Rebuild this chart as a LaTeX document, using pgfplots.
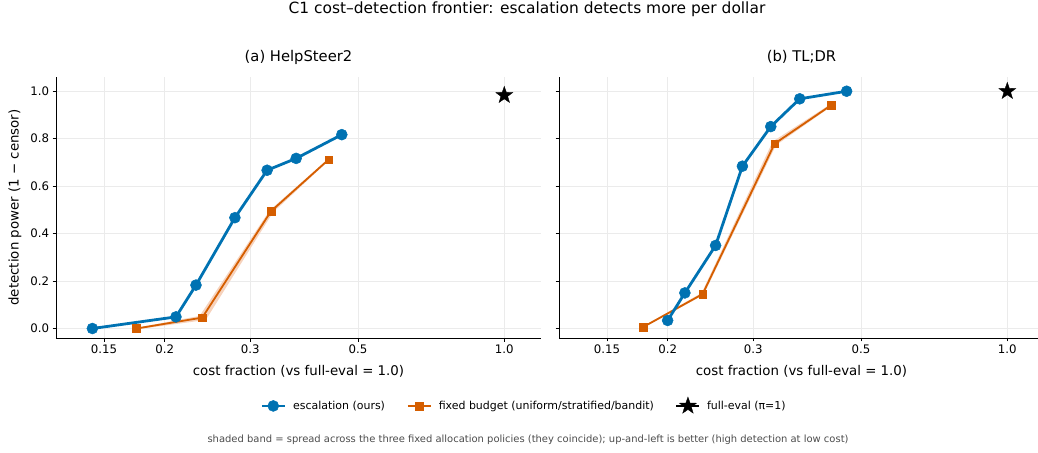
\documentclass[border=0pt]{standalone}
\usepackage{fontspec}
\setmainfont{DejaVu Sans}
\usepackage{pgfplots}
\pgfplotsset{compat=1.18}
\definecolor{cblue}{HTML}{0072B2}
\definecolor{corange}{HTML}{D55E00}
\definecolor{gridc}{HTML}{EBEBEB}
\definecolor{bandc}{HTML}{F6D2BC}
\pgfdeclareplotmark{fstar}{%
  \pgfpathmoveto{\pgfpointpolar{90}{\pgfplotmarksize}}%
  \pgfpathlineto{\pgfpointpolar{126}{0.4\pgfplotmarksize}}%
  \pgfpathlineto{\pgfpointpolar{162}{\pgfplotmarksize}}%
  \pgfpathlineto{\pgfpointpolar{198}{0.4\pgfplotmarksize}}%
  \pgfpathlineto{\pgfpointpolar{234}{\pgfplotmarksize}}%
  \pgfpathlineto{\pgfpointpolar{270}{0.4\pgfplotmarksize}}%
  \pgfpathlineto{\pgfpointpolar{306}{\pgfplotmarksize}}%
  \pgfpathlineto{\pgfpointpolar{342}{0.4\pgfplotmarksize}}%
  \pgfpathlineto{\pgfpointpolar{18}{\pgfplotmarksize}}%
  \pgfpathlineto{\pgfpointpolar{54}{0.4\pgfplotmarksize}}%
  \pgfpathclose
  \pgfusepathqfillstroke
}
\tikzset{
  esc/.style={cblue, line width=2.8bp, mark=*, mark size=5.5bp, mark options={solid, fill=cblue, draw=cblue, line width=0.5bp}},
  fix/.style={corange, line width=1.8bp, mark=square*, mark size=3.9bp, mark options={solid, fill=corange, draw=corange, line width=0.3bp}},
  fe/.style={black, line width=1.2bp, mark=fstar, mark size=9bp, mark options={solid, fill=black, draw=black, line width=0.3bp}},
}
\begin{document}
\begin{tikzpicture}
\useasboundingbox (0,0) rectangle (1038bp,453bp);
\node[font=\fontsize{15.5}{18}\selectfont] at (527bp,444bp) {C1 cost–detection frontier: escalation detects more per dollar};
\node[font=\fontsize{10}{12}\selectfont, text=black!70] at (528bp,13bp) {shaded band = spread across the three fixed allocation policies (they coincide); up-and-left is better (high detection at low cost)};

\begin{axis}[at={(56bp,115bp)}, anchor=south west,
    scale only axis, width=485bp, height=261bp,
    xmode=log, xmin=0.1195, xmax=1.19, ymin=-0.04, ymax=1.06,
    axis x line*=bottom, axis y line*=left,
    axis line style={-, line width=0.8bp},
    xtick={0.15,0.2,0.3,0.5,1.0}, xticklabels={0.15,0.2,0.3,0.5,1.0},
    minor xtick={}, ytick={0,0.2,0.4,0.6,0.8,1.0},
    tick align=outside, major tick length=3.5bp,
    tick style={black, line width=0.8bp},
    grid=major, major grid style={gridc, line width=0.6bp},
    ticklabel style={font=\fontsize{11.8}{14}\selectfont},
    /pgf/number format/assume math mode=true,
    yticklabel style={/pgf/number format/.cd, fixed, fixed zerofill, precision=1},
    xlabel={cost fraction (vs full-eval = 1.0)},
    label style={font=\fontsize{13.4}{16}\selectfont},
    xlabel style={at={(0.5,0)}, anchor=center, yshift=-33bp},
    title style={font=\fontsize{14.8}{17}\selectfont, at={(0.5,1)}, anchor=center, yshift=14bp},
    clip=false,
  title={(a) HelpSteer2},
  ylabel={detection power (1 − censor)},
  ylabel style={at={(axis description cs:-0.0845,0.5)}, anchor=center},
  legend columns=3,
  legend style={at={(0.965,-0.257)}, anchor=center, draw=none, fill=none,
    font=\fontsize{11}{13}\selectfont,
    /tikz/every even column/.append style={column sep=20bp},
    /tikz/every odd column/.append style={column sep=5bp}},
  legend image code/.code={\draw[mark repeat=2,mark phase=2] plot coordinates {(0bp,0bp) (11.5bp,0bp) (23bp,0bp)};},
]
\addplot[fill=bandc, draw=none, forget plot] coordinates {(0.175,0.003) (0.236,0.053) (0.329,0.498) (0.434,0.715) (0.436,0.709) (0.334,0.489) (0.243,0.036) (0.176,-0.003)} -- cycle;
\addplot[fix, forget plot] coordinates {(0.175,0.0) (0.239,0.046) (0.331,0.494) (0.435,0.712)};
\addplot[esc, forget plot] coordinates {(0.142,0.0) (0.211,0.049) (0.232,0.183) (0.279,0.467) (0.325,0.667) (0.373,0.717) (0.463,0.817)};
\addplot[fe, forget plot] coordinates {(1.0,0.983)};
\addlegendimage{esc}
\addlegendentry{escalation (ours)}
\addlegendimage{fix}
\addlegendentry{fixed budget (uniform/stratified/bandit)}
\addlegendimage{fe}
\addlegendentry{full-eval (π=1)}
\end{axis}

\begin{axis}[at={(559bp,115bp)}, anchor=south west,
    scale only axis, width=485bp, height=261bp,
    xmode=log, xmin=0.1195, xmax=1.19, ymin=-0.04, ymax=1.06,
    axis x line*=bottom, axis y line*=left,
    axis line style={-, line width=0.8bp},
    xtick={0.15,0.2,0.3,0.5,1.0}, xticklabels={0.15,0.2,0.3,0.5,1.0},
    minor xtick={}, ytick={0,0.2,0.4,0.6,0.8,1.0},
    tick align=outside, major tick length=3.5bp,
    tick style={black, line width=0.8bp},
    grid=major, major grid style={gridc, line width=0.6bp},
    ticklabel style={font=\fontsize{11.8}{14}\selectfont},
    /pgf/number format/assume math mode=true,
    yticklabels={},
    xlabel={cost fraction (vs full-eval = 1.0)},
    label style={font=\fontsize{13.4}{16}\selectfont},
    xlabel style={at={(0.5,0)}, anchor=center, yshift=-33bp},
    title style={font=\fontsize{14.8}{17}\selectfont, at={(0.5,1)}, anchor=center, yshift=14bp},
    clip=false,
  title={(b) TL;DR},
]
\addplot[fill=bandc, draw=none] coordinates {(0.178,0.009) (0.235,0.150) (0.329,0.788) (0.433,0.946) (0.435,0.937) (0.334,0.772) (0.237,0.141) (0.178,0.003)} -- cycle;
\addplot[fix] coordinates {(0.178,0.006) (0.236,0.145) (0.332,0.779) (0.434,0.941)};
\addplot[esc] coordinates {(0.200,0.034) (0.217,0.150) (0.251,0.350) (0.285,0.684) (0.326,0.851) (0.374,0.968) (0.467,1.0)};
\addplot[fe] coordinates {(1.0,1.0)};
\end{axis}
\end{tikzpicture}
\end{document}
